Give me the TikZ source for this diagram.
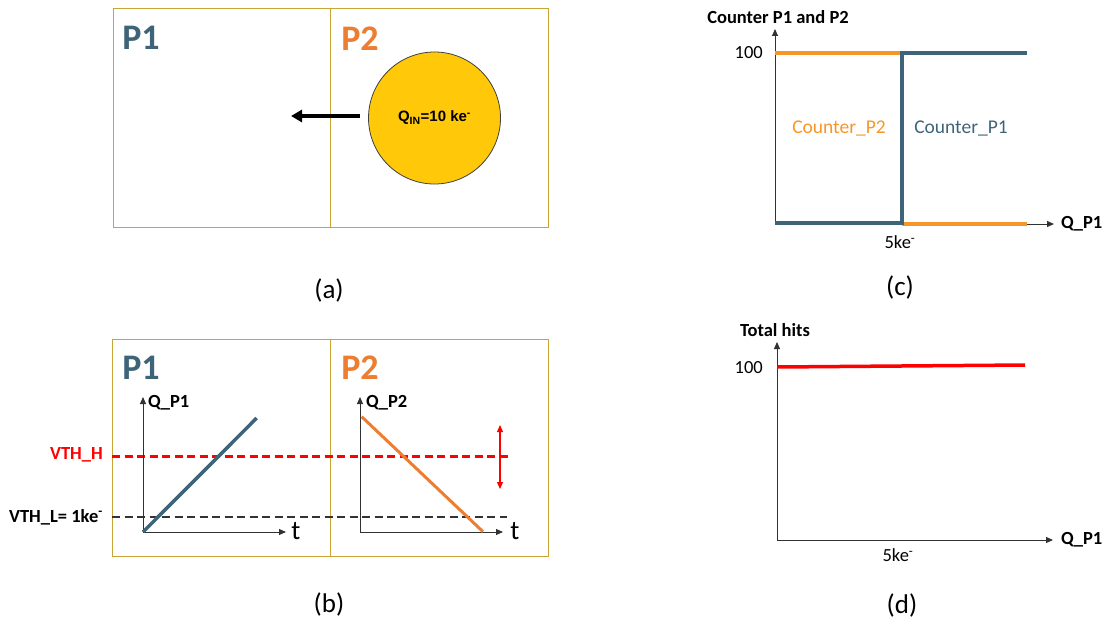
\documentclass[tikz,border=0pt]{standalone}
\usepackage{fontspec}
\setmainfont{Carlito}
\newfontfamily\arialf{Liberation Sans}
\usetikzlibrary{arrows.meta}
\definecolor{boxgold}{RGB}{201,165,55}
\definecolor{pblue}{RGB}{62,100,121}
\definecolor{porange}{RGB}{237,125,49}
\definecolor{corange}{RGB}{247,150,40}
\definecolor{qyellow}{RGB}{255,201,10}
\definecolor{axgray}{RGB}{50,50,50}
\begin{document}
\begin{tikzpicture}[x=1pt,y=-1pt,
  panel/.style={draw=boxgold, line width=1.1pt, inner sep=0pt, anchor=north west},
  axis/.style={draw=axgray, line width=1pt, -{Triangle[length=7pt,width=6pt]}},
  bigp/.style={font=\fontsize{36}{36}\selectfont\bfseries, inner sep=0pt},
  axlab/.style={font=\fontsize{18.5}{18.5}\selectfont\bfseries, inner sep=0pt},
  tlab/.style={font=\fontsize{27}{27}\selectfont, inner sep=0pt},
  numlab/.style={font=\fontsize{18.5}{18.5}\selectfont, inner sep=0pt},
  caplab/.style={font=\fontsize{27}{27}\selectfont, inner sep=0pt},
  vdash/.style={line width=2.2pt, dash pattern=on 8pt off 4.5pt},
  plotline/.style={line width=3.5pt}
]
\useasboundingbox (0,0) rectangle (1110,626);

% ---------- (a)
\node[panel, minimum width=217pt, minimum height=218.5pt] (a1) at (112.5,8.3) {};
\node[panel, minimum width=218pt, minimum height=218.5pt] (a2) at (329.5,8.3) {};
\node[bigp, text=pblue] (pa1) at (141,38) {P1};
\node[bigp, text=porange] (pa2) at (360,39) {P2};
\node[circle, draw=black!75, line width=0.8pt, fill=qyellow, minimum size=132pt, inner sep=0pt,
      font=\arialf\bfseries\fontsize{15}{15}\selectfont] (q) at (434.5,118) {Q\textsubscript{IN}=10 ke\textsuperscript{-}};
\coordinate (arrs) at (360,116);
\coordinate (arre) at (291,116);
\draw[line width=3.5pt, -{Triangle[length=11pt,width=12pt]}] (arrs) -- (arre);
\node[caplab] (capa) at (329,290) {(a)};

% ---------- (b)
\node[panel, minimum width=217.5pt, minimum height=217pt] (b1) at (112,339) {};
\node[panel, minimum width=218.5pt, minimum height=217pt] (b2) at (329.5,339) {};
\node[bigp, text=pblue] (pb1) at (141,368) {P1};
\node[bigp, text=porange] (pb2) at (360,368) {P2};

\coordinate (vhs) at (112,456.5);
\coordinate (vhe) at (510,456.5);
\coordinate (vls) at (112,517);
\coordinate (vle) at (507,517);
\draw[vdash, red] (vhs) -- (vhe);
\draw[vdash, black!80] (vls) -- (vle);
\node[axlab, text=red, anchor=east] (vthh) at (103,455) {VTH\_H};
\node[axlab, anchor=east] (vthl) at (103,517) {VTH\_L= 1ke\textsuperscript{-}};

\coordinate (o1) at (143,532);
\coordinate (y1) at (143,397);
\coordinate (x1) at (286,532);
\draw[axis] (o1) -- (y1);
\draw[axis] (o1) -- (x1);
\node[axlab, anchor=west] (qp1) at (148,403) {Q\_P1};
\node[tlab] (t1) at (296,531) {t};
\coordinate (bl1) at (143,532);
\coordinate (bl2) at (256.7,418);
\draw[plotline, pblue] (bl1) -- (bl2);

\coordinate (o2) at (360,532);
\coordinate (y2) at (360,397);
\coordinate (x2) at (503,532);
\draw[axis] (o2) -- (y2);
\draw[axis] (o2) -- (x2);
\node[axlab, anchor=west] (qp2) at (366,403) {Q\_P2};
\node[tlab] (t2) at (515,531) {t};
\coordinate (ol1) at (361.7,416.7);
\coordinate (ol2) at (483,531.7);
\draw[line width=3pt, porange] (ol1) -- (ol2);

\coordinate (ra) at (500,425);
\coordinate (rb) at (500,489);
\draw[red, line width=1.2pt, {Triangle[length=7pt,width=6pt]}-{Triangle[length=7pt,width=6pt]}] (ra) -- (rb);
\node[caplab] (capb) at (329,604) {(b)};

% ---------- (c)
\coordinate (co) at (775,224);
\coordinate (cy) at (775,29);
\coordinate (cx) at (1054,224);
\draw[axis] (co) -- (cy);
\draw[axis] (co) -- (cx);
\node[axlab] (ctitle) at (778,17) {Counter P1 and P2};
\node[numlab, anchor=east] (c100) at (763,53) {100};
\node[numlab] (c5k) at (900,242) {5ke\textsuperscript{-}};
\node[axlab, anchor=west] (cq) at (1061,224) {Q\_P1};
\coordinate (c1) at (775,53);
\coordinate (c2) at (902,53);
\coordinate (c3) at (1027,53);
\coordinate (c4) at (775,223);
\coordinate (c5) at (902,223);
\coordinate (c6) at (902,224);
\coordinate (c7) at (1027,224);
\draw[plotline, corange] (c1) -- (c2);
\draw[plotline, corange] (c6) -- (c7);
\draw[plotline, pblue] (c4) -- (c5) -- (c2) -- (c3);
\node[numlab, font=\fontsize{19.5}{19.5}\selectfont, text=corange] (cp2) at (839,128) {Counter\_P2};
\node[numlab, font=\fontsize{19.5}{19.5}\selectfont, text=pblue] (cp1) at (961,128) {Counter\_P1};
\node[caplab] (capc) at (900,287) {(c)};

% ---------- (d)
\coordinate (do) at (777,540);
\coordinate (dy) at (777,342);
\coordinate (dx) at (1053,540);
\draw[axis] (do) -- (dy);
\draw[axis] (do) -- (dx);
\node[axlab] (dtitle) at (775,330) {Total hits};
\node[numlab, anchor=east] (d100) at (763,368) {100};
\node[numlab] (d5k) at (898,555) {5ke\textsuperscript{-}};
\node[axlab, anchor=west] (dq) at (1061,540) {Q\_P1};
\coordinate (r1) at (777,367);
\coordinate (r2) at (1025,365);
\draw[plotline, red] (r1) -- (r2);
\node[caplab] (capd) at (902,605) {(d)};
\end{tikzpicture}
\end{document}
